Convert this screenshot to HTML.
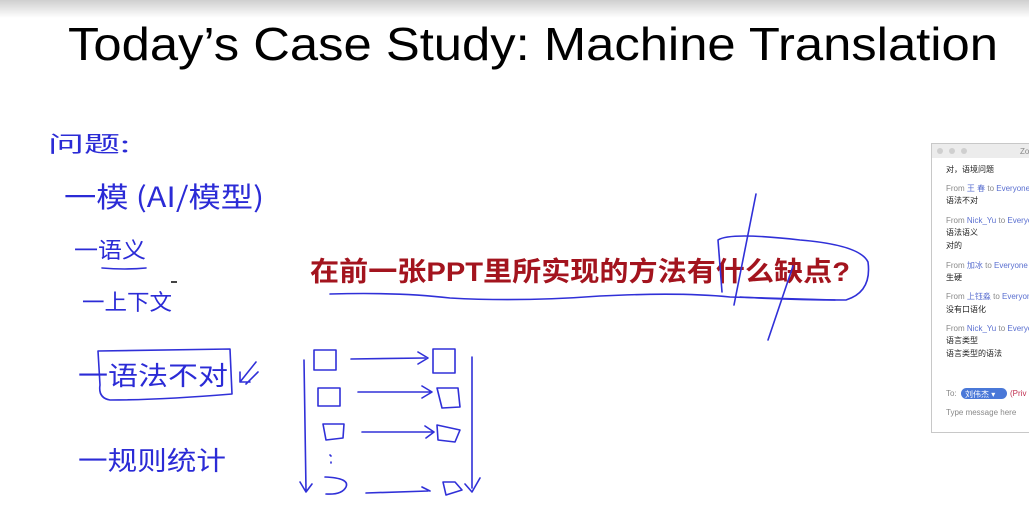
<!DOCTYPE html>
<html><head><meta charset="utf-8"><style>
html,body{margin:0;padding:0;background:#fff;}
svg{display:block}
.hw{font-family:"WenQuanYi Zen Hei","Noto Sans CJK SC",sans-serif;fill:#2b2bd6;font-weight:normal}
.ink{fill:none;stroke:#3030d8;stroke-width:1.6;stroke-linecap:round;stroke-linejoin:round}
.chat{font-family:"Liberation Sans","Noto Sans CJK SC",sans-serif;font-size:8px}
</style></head><body>
<svg width="1029" height="521" viewBox="0 0 1029 521" xmlns="http://www.w3.org/2000/svg">
<defs><linearGradient id="tg" x1="0" y1="0" x2="0" y2="1"><stop offset="0" stop-color="#cfcfcf"/><stop offset="1" stop-color="#fff"/></linearGradient></defs>
<rect x="0" y="0" width="1029" height="18" fill="url(#tg)"/>
<text x="68" y="60" font-family="Liberation Sans, sans-serif" font-size="46" textLength="930" lengthAdjust="spacingAndGlyphs">Today’s Case Study: Machine Translation</text>

<!-- handwriting -->
<text class="hw" x="48" y="152" font-size="22" textLength="82" lengthAdjust="spacingAndGlyphs">问题:</text>
<text class="hw" x="64" y="207" font-size="28" textLength="200" lengthAdjust="spacingAndGlyphs">一模 (AI/模型)</text>
<text class="hw" x="74" y="258" font-size="22" textLength="72" lengthAdjust="spacingAndGlyphs">一语义</text>
<path class="ink" d="M102 268 Q125 270 146 268"/>
<text class="hw" x="82" y="310" font-size="22" textLength="90" lengthAdjust="spacingAndGlyphs">一上下文</text>
<text class="hw" x="78" y="385" font-size="26" textLength="150" lengthAdjust="spacingAndGlyphs">一语法不对</text>
<path class="ink" d="M98 351 L230 349 L232 394 Q160 400 110 400 Q98 398 100 385 Z"/>
<path class="ink" d="M256 362 L240 382 M240 382 L240 372 M240 382 L250 382 M258 372 L246 384"/>
<text class="hw" x="78" y="470" font-size="26" textLength="148" lengthAdjust="spacingAndGlyphs">一规则统计</text>

<!-- diagram -->
<g class="ink">
<rect x="314" y="350" width="22" height="20"/>
<rect x="318" y="388" width="22" height="18"/>
<path d="M323 424 L344 424 L343 438 L326 440 Z"/>
<path d="M325 477 Q350 478 346 487 Q342 495 326 494"/>
<path d="M304 360 L306 490 M300 482 L306 492 L312 484"/>
<path d="M351 359 L425 358 M418 352 L428 358 L418 364"/>
<path d="M358 392 L430 392 M422 386 L432 392 L422 398"/>
<path d="M362 432 L432 432 M425 426 L434 432 L426 438"/>
<path d="M366 493 L428 491 M422 487 L430 491"/>
<rect x="433" y="349" width="22" height="24"/>
<path d="M437 388 L458 388 L460 407 L442 408 Z"/>
<path d="M437 425 L460 430 L455 442 L438 440 Z"/>
<path d="M443 482 L446 495 L462 490 L455 482 Z"/>
<path d="M472 357 L472 488 M465 484 L472 492 L480 478"/>
<path d="M330 455 L331 456 M331 462 L331 463"/>
</g>

<!-- red question -->
<text x="310" y="281" font-family="Liberation Sans, 'Noto Sans CJK SC', sans-serif" font-weight="bold" font-size="27" fill="#a3141e" textLength="540" lengthAdjust="spacingAndGlyphs">在前一张PPT里所实现的方法有什么缺点?</text>
<g class="ink">
<path d="M330 294 Q400 292 450 298 Q520 302 600 296 Q680 292 730 297 L835 300"/>
<path d="M722 292 L718 240 Q730 232 800 240 Q860 245 868 262 Q872 292 846 300 Q790 300 740 297"/>
<path d="M756 194 L734 305"/>
<path d="M793 266 L768 340"/>
</g>
<rect x="171" y="281" width="6" height="2" fill="#444"/>

<!-- chat panel -->
<rect x="931.5" y="143.5" width="100" height="289" fill="#fff" stroke="#c8c8c8"/>
<rect x="932" y="144" width="97" height="14" fill="#ececec"/>
<circle cx="940" cy="151" r="3" fill="#cfcfcf"/><circle cx="952" cy="151" r="3" fill="#cfcfcf"/><circle cx="964" cy="151" r="3" fill="#cfcfcf"/>
<text class="chat" x="1020" y="154" fill="#888">Zo</text>
<g class="chat" fill="#222">
<text x="946" y="172">对，语境问题</text>
<text x="946" y="191" fill="#888">From <tspan fill="#5a6fd0">王 春</tspan> to <tspan fill="#5a6fd0">Everyone</tspan></text>
<text x="946" y="203">语法不对</text>
<text x="946" y="223" fill="#888">From <tspan fill="#5a6fd0">Nick_Yu</tspan> to <tspan fill="#5a6fd0">Everyone</tspan></text>
<text x="946" y="235">语法语义</text>
<text x="946" y="248">对的</text>
<text x="946" y="268" fill="#888">From <tspan fill="#5a6fd0">加冰</tspan> to <tspan fill="#5a6fd0">Everyone</tspan></text>
<text x="946" y="280">生硬</text>
<text x="946" y="299" fill="#888">From <tspan fill="#5a6fd0">上钰淼</tspan> to <tspan fill="#5a6fd0">Everyone</tspan></text>
<text x="946" y="312">没有口语化</text>
<text x="946" y="331" fill="#888">From <tspan fill="#5a6fd0">Nick_Yu</tspan> to <tspan fill="#5a6fd0">Everyone</tspan></text>
<text x="946" y="343">语言类型</text>
<text x="946" y="356">语言类型的语法</text>
<text x="946" y="396" fill="#888">To:</text>
<rect x="961" y="388" width="46" height="11" rx="5.5" fill="#4a78d8"/>
<text x="965" y="397" fill="#fff">刘伟杰 ▾</text>
<text x="1010" y="396" fill="#c03050">(Priv</text>
<text x="946" y="415" fill="#888">Type message here</text>
</g>
</svg>
</body></html>
